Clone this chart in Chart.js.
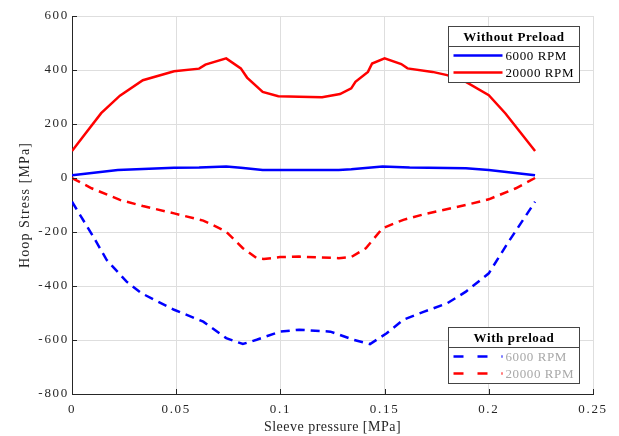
<!DOCTYPE html>
<html>
<head>
<meta charset="utf-8">
<script src="https://cdn.jsdelivr.net/npm/chart.js@4.4.1/dist/chart.umd.min.js"></script>
<style>
  html, body { margin: 0; padding: 0; background: #fff; }
  #wrap { width: 619px; height: 436px; }
</style>
</head>
<body>
<div id="wrap"><canvas id="hoopChart" width="619" height="436"></canvas></div>
<script>
// ---- data ----
const xTicks = [0, 0.05, 0.1, 0.15, 0.2, 0.25];
const yTicks = [-800, -600, -400, -200, 0, 200, 400, 600];

// Without preload, 6000 RPM
const xNo6k = [0, 0.022, 0.049, 0.061, 0.074, 0.081, 0.0915, 0.128, 0.134, 0.149, 0.162, 0.189, 0.2, 0.2222];
const yNo6k = [10, 30, 38, 39, 43, 38, 30, 30, 32, 43, 39, 36, 30, 10];

// Without preload, 20000 RPM
const xNo20k = [0, 0.006, 0.014, 0.023, 0.034, 0.049, 0.061, 0.064, 0.074, 0.081, 0.084, 0.0915, 0.099, 0.109, 0.12, 0.1286, 0.134, 0.136, 0.142, 0.144, 0.15, 0.158, 0.161, 0.173, 0.18, 0.189, 0.2, 0.208, 0.2222];
const yNo20k = [100, 160, 240, 305, 362, 395, 405, 420, 443, 406, 372, 319, 303, 301, 299, 311, 332, 356, 393, 424, 443, 422, 406, 393, 381, 356, 307, 239, 100];

// With preload, 6000 RPM
const xPre6k = [0, 0.0102, 0.0166, 0.0262, 0.0334, 0.049, 0.063, 0.074, 0.082, 0.0886, 0.0998, 0.109, 0.124, 0.135, 0.143, 0.151, 0.159, 0.169, 0.18, 0.189, 0.2, 0.209, 0.2222];
const yPre6k = [-88, -217, -303, -384, -427, -488, -532, -593, -615, -599, -569, -562, -569, -599, -615, -575, -525, -495, -464, -421, -353, -242, -88];

// With preload, 20000 RPM
const xPre20k = [0, 0.0094, 0.023, 0.034, 0.049, 0.063, 0.066, 0.074, 0.082, 0.0886, 0.092, 0.0998, 0.109, 0.128, 0.134, 0.141, 0.149, 0.159, 0.169, 0.189, 0.2, 0.213, 0.2222];
const yPre20k = [0, -38, -81, -104, -131, -158, -168, -199, -260, -297, -300, -293, -291, -297, -293, -260, -186, -155, -134, -100, -79, -38, 0];

const xTitle = 'Sleeve pressure [MPa]';
const yTitle = 'Hoop Stress [MPa]';
const legendGroups = [
  { title: 'Without Preload', labels: ['6000 RPM', '20000 RPM'] },
  { title: 'With preload', labels: ['6000 RPM', '20000 RPM'] }
];

const pts = (xs, ys) => xs.map((x, i) => ({ x: x, y: ys[i] }));

const AXIS = '#262626';
const FONT = "'Liberation Serif', 'DejaVu Serif', serif";

// MATLAB-ish text is spaced wider than the browser's, so widen tick labels
const spacing = {
  id: 'spacing',
  beforeDraw(chart) { chart.ctx.letterSpacing = '1.7px'; }
};

// axis titles, inside tick marks and the two boxed legends
const extras = {
  id: 'extras',
  afterDraw(chart) {
    const ctx = chart.ctx;
    const xs = chart.scales.x, ys = chart.scales.y;
    const a = chart.chartArea;
    ctx.save();
    ctx.strokeStyle = AXIS;
    ctx.lineWidth = 1;
    ctx.beginPath();
    xTicks.forEach(v => {
      const px = Math.round(xs.getPixelForValue(v)) + 0.5;
      ctx.moveTo(px, a.bottom); ctx.lineTo(px, a.bottom - 5);
    });
    yTicks.forEach(v => {
      const py = Math.round(ys.getPixelForValue(v)) + 0.5;
      ctx.moveTo(a.left, py); ctx.lineTo(a.left + 5, py);
    });
    ctx.stroke();

    // axis titles
    ctx.fillStyle = AXIS;
    ctx.font = '14px ' + FONT;
    ctx.textAlign = 'center';
    ctx.textBaseline = 'middle';
    ctx.letterSpacing = '0.5px';
    ctx.fillText(xTitle, (a.left + a.right) / 2, 427);
    ctx.save();
    ctx.translate(25, (a.top + a.bottom) / 2);
    ctx.rotate(-Math.PI / 2);
    ctx.letterSpacing = '1.1px';
    ctx.fillText(yTitle, 0, 0);
    ctx.restore();

    const boxes = [
      { top: 26.5, group: legendGroups[0], sets: [0, 1], textColor: '#000' },
      { top: 327.5, group: legendGroups[1], sets: [2, 3], textColor: '#a8a8a8' }
    ];
    const left = 448.5, width = 131, height = 56;
    ctx.letterSpacing = '0.6px';
    boxes.forEach(b => {
      ctx.fillStyle = '#fff';
      ctx.fillRect(left, b.top, width, height);
      ctx.strokeStyle = '#444';
      ctx.lineWidth = 1;
      ctx.strokeRect(left, b.top, width, height);
      ctx.beginPath();
      ctx.moveTo(left, b.top + 20); ctx.lineTo(left + width, b.top + 20);
      ctx.stroke();
      ctx.fillStyle = '#000';
      ctx.font = 'bold 13px ' + FONT;
      ctx.textAlign = 'center';
      ctx.textBaseline = 'middle';
      ctx.fillText(b.group.title, left + width / 2, b.top + 11);
      b.sets.forEach((di, k) => {
        const ds = chart.data.datasets[di];
        const y = b.top + 29 + k * 17;
        ctx.strokeStyle = ds.borderColor;
        ctx.lineWidth = 2.5;
        ctx.setLineDash(ds.borderDash ? [10, 14] : []);
        ctx.beginPath();
        ctx.moveTo(left + 5, y); ctx.lineTo(left + 54, y);
        ctx.stroke();
        ctx.setLineDash([]);
        ctx.fillStyle = b.textColor;
        ctx.font = '13px ' + FONT;
        ctx.textAlign = 'left';
        ctx.fillText(b.group.labels[k], left + 57, y + 1);
      });
    });
    ctx.restore();
  }
};

new Chart(document.getElementById('hoopChart'), {
  type: 'line',
  data: {
    datasets: [
      { label: 'Without Preload 6000 RPM', data: pts(xNo6k, yNo6k), borderColor: '#0000ff', borderWidth: 2.5 },
      { label: 'Without Preload 20000 RPM', data: pts(xNo20k, yNo20k), borderColor: '#ff0000', borderWidth: 2.5 },
      { label: 'With preload 6000 RPM', data: pts(xPre6k, yPre6k), borderColor: '#0000ff', borderWidth: 2.5, borderDash: [9, 6] },
      { label: 'With preload 20000 RPM', data: pts(xPre20k, yPre20k), borderColor: '#ff0000', borderWidth: 2.5, borderDash: [9, 6] }
    ]
  },
  options: {
    responsive: false,
    animation: false,
    elements: { point: { radius: 0 }, line: { tension: 0, fill: false } },
    layout: { padding: { top: 16, right: 26, left: 0, bottom: 0 } },
    plugins: { legend: { display: false }, tooltip: { enabled: false } },
    scales: {
      x: {
        type: 'linear',
        min: 0, max: 0.25,
        afterFit: s => { s.height = 42; },
        afterBuildTicks: s => { s.ticks = xTicks.map(v => ({ value: v })); },
        ticks: {
          color: AXIS, font: { family: FONT, size: 13 }, padding: 8,
          maxRotation: 0,
          callback: v => String(Number(v.toFixed(2)))
        },
        grid: { color: '#dedede', lineWidth: 1, drawTicks: false },
        border: { display: true, color: AXIS, width: 1 }
      },
      y: {
        type: 'linear',
        min: -800, max: 600,
        afterFit: s => { s.width = 72; },
        afterBuildTicks: s => { s.ticks = yTicks.map(v => ({ value: v })); },
        ticks: { color: AXIS, font: { family: FONT, size: 13 }, padding: 3 },
        grid: { color: '#dedede', lineWidth: 1, drawTicks: false },
        border: { display: true, color: AXIS, width: 1 }
      }
    }
  },
  plugins: [spacing, extras]
});
</script>
</body>
</html>
